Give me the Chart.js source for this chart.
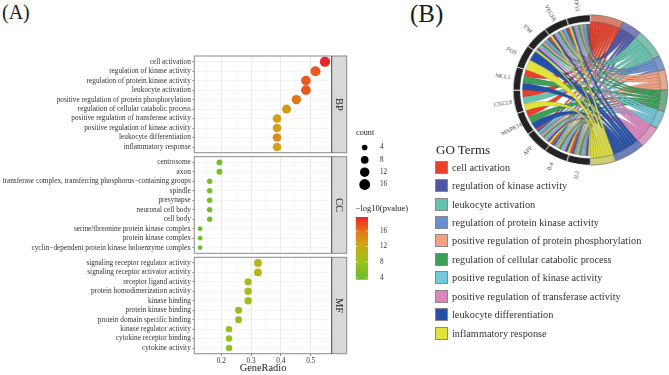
<!DOCTYPE html>
<html>
<head>
<meta charset="utf-8">
<script src="https://cdn.jsdelivr.net/npm/chart.js@4"></script>
<style>
    body { margin: 0; background: #fff; font-family: "Liberation Serif", serif; }
    #page { position: relative; width: 669px; height: 375px; overflow: hidden; }
    canvas { position: absolute; }
    .tag { position: absolute; color: #1a1a1a; line-height: 1; }
    #goTitle { position: absolute; left: 436px; top: 142px; font-size: 13px; line-height: 16px; color: #222; }
    #goLegend { position: absolute; left: 435px; top: 158px; }
    .row { display: flex; align-items: center; height: 18.45px; font-size: 10.3px; color: #333; white-space: nowrap; }
    .swatch { width: 11px; height: 11px; border: 1px solid #888; margin-right: 4px; flex: none; }
</style>
</head>
<body>
<div id="page">
    <div class="tag" style="left:2px;top:2px;font-size:20px">(A)</div>
    <div class="tag" style="left:410px;top:1px;font-size:25px">(B)</div>
    <canvas id="panelBP" width="350" height="113" style="left:0;top:48px"></canvas>
    <canvas id="panelCC" width="350" height="113" style="left:0;top:148px"></canvas>
    <canvas id="panelMF" width="350" height="126" style="left:0;top:249px"></canvas>
    <canvas id="countKey" width="40" height="72" style="left:356px;top:127px"></canvas>
    <canvas id="colorKey" width="60" height="85" style="left:355px;top:203px"></canvas>
    <canvas id="chord" width="179" height="190" style="left:486.7px;top:0;width:184px;height:190px"></canvas>
    <div id="goTitle">GO Terms</div>
    <div id="goLegend"></div>
</div>
<script>
// dot plot data
const bpTerms = ["cell activation", "regulation of kinase activity", "regulation of protein kinase activity", "leukocyte activation", "positive regulation of protein phosphorylation", "regulation of cellular catabolic process", "positive regulation of transferase activity", "positive regulation of kinase activity", "leukocyte differentiation", "inflammatory response"];
const bpRatio = [0.548, 0.516, 0.484, 0.484, 0.452, 0.419, 0.387, 0.387, 0.387, 0.387];
const bpCount = [17, 16, 15, 15, 14, 13, 12, 12, 12, 12];
const bpLogP = [19.6, 17.2, 17.0, 17.3, 15.8, 13.6, 13.0, 13.2, 14.4, 13.0];

const ccTerms = ["centrosome", "axon", "transferase complex, transferring phosphorus\u2212containing groups", "spindle", "presynapse", "neuronal cell body", "cell body", "serine/threonine protein kinase complex", "protein kinase complex", "cyclin\u2212dependent protein kinase holoenzyme complex"];
const ccRatio = [0.194, 0.194, 0.161, 0.161, 0.161, 0.161, 0.161, 0.129, 0.129, 0.129];
const ccCount = [6, 6, 5, 5, 5, 5, 5, 4, 4, 4];
const ccLogP = [4.6, 4.8, 4.4, 4.4, 4.4, 4.4, 4.3, 4.2, 4.2, 4.2];

const mfTerms = ["signaling receptor regulator activity", "signaling receptor activator activity", "receptor ligand activity", "protein homodimerization activity", "kinase binding", "protein kinase binding", "protein domain specific binding", "kinase regulator activity", "cytokine receptor binding", "cytokine activity"];
const mfRatio = [0.323, 0.323, 0.29, 0.29, 0.29, 0.258, 0.258, 0.226, 0.226, 0.226];
const mfCount = [10, 10, 9, 9, 9, 8, 8, 7, 7, 7];
const mfLogP = [10.6, 10.8, 9.0, 8.6, 8.8, 7.4, 7.6, 7.8, 7.6, 7.4];

const xTickValues = [0.15, 0.2, 0.25, 0.3, 0.35, 0.4, 0.45, 0.5, 0.55];
const xLabelled = [0.2, 0.3, 0.4, 0.5];
const countKeyValues = [4, 8, 12, 16];
const colorKeyTicks = [4, 8, 12, 16];
const colorKeyRange = [3.5, 19.6];

// colour scale of -log10(pvalue)
const scaleValues = [3.5, 6, 8, 10.5, 13, 15.5, 17.3, 19.6];
const scaleColors = ["#6CBC2E", "#83BF26", "#98C11F", "#B8B417", "#D2A016", "#DE7C18", "#E8571C", "#E4272A"];

// chord diagram
const goTerms = ["cell activation", "regulation of kinase activity", "leukocyte activation", "regulation of protein kinase activity", "positive regulation of protein phosphorylation", "regulation of cellular catabolic process", "positive regulation of kinase activity", "positive regulation of transferase activity", "leukocyte differentiation", "inflammatory response"];
const termSizes = [25, 15, 23, 11, 16, 16.6, 14, 17, 23, 19];
const termColors = ["#E8402A", "#4F56A6", "#66C2AE", "#6A8FD0", "#F4A082", "#3C9F58", "#72C8DC", "#DB86BE", "#2450A8", "#E2E23C"];
const ringColors = ["#D9806C", "#7A7DB8", "#7FC0B0", "#7D97CF", "#E8A78F", "#70AD80", "#7FC4D2", "#DB9BC5", "#6C7FBE", "#CFCF70"];
const genes = ["IL2", "IL4", "APP", "MAPK14", "CXCL8", "MCL1", "FOS", "TNF", "VEGFA", "TP53"];
const geneSizes = [18, 18, 18, 18, 18, 18, 18, 18, 18, 18];
// which terms every gene belongs to, same order as genes
const geneLinks = [
    [0, 1, 2, 4, 5, 6, 7, 8, 9],
    [0, 1, 2, 4, 5, 6, 7, 8, 9],
    [0, 1, 2, 3, 4, 5, 6, 7, 8, 9],
    [0, 5, 8],
    [0, 2, 9],
    [0, 5, 8],
    [8, 9],
    [0, 1, 2, 3, 4, 5, 6, 7, 8, 9],
    [0, 1, 2, 3, 4, 5, 6, 7, 8, 9],
    [0, 1, 2, 3, 4, 5, 6, 7, 8, 9]
];

const serif = "'Liberation Serif', serif";

function hexToRgb(hex) {
    return [1, 3, 5].map(i => parseInt(hex.substr(i, 2), 16));
}

function colorFor(v) {
    for (let i = 1; i < scaleValues.length; i++) {
        if (v <= scaleValues[i]) {
            const t = (v - scaleValues[i - 1]) / (scaleValues[i] - scaleValues[i - 1]);
            const a = hexToRgb(scaleColors[i - 1]);
            const b = hexToRgb(scaleColors[i]);
            return `rgb(${a.map((c, k) => Math.round(c + (b[k] - c) * t)).join(",")})`;
        }
    }
    return scaleColors[scaleColors.length - 1];
}

function radiusFor(count) {
    return 1.3 * Math.sqrt(count) - 0.2;
}

// panel border and grey strip on the right side
const stripPlugin = {
    id: "strip",
    afterDraw(chart, args, opts) {
        const a = chart.chartArea;
        const c = chart.ctx;
        c.save();
        c.fillStyle = "#D9D9D9";
        c.fillRect(a.right, a.top, 15, a.height);
        c.strokeStyle = "#8a8a8a";
        c.lineWidth = 1;
        c.strokeRect(a.left, a.top, a.width + 15, a.height);
        c.strokeStyle = "#444";
        c.beginPath();
        c.moveTo(a.right, a.top);
        c.lineTo(a.right, a.bottom);
        c.stroke();
        c.translate(a.right + 7.5, (a.top + a.bottom) / 2);
        c.rotate(Math.PI / 2);
        c.fillStyle = "#222";
        c.font = `10.5px ${serif}`;
        c.textAlign = "center";
        c.textBaseline = "middle";
        c.fillText(opts.label, 0, 0);
        c.restore();
    }
};

function makePanel(id, terms, ratio, count, logP, label, pad, showX) {
    const ctx = document.getElementById(id).getContext("2d");
    return new Chart(ctx, {
        type: "scatter",
        data: {
            datasets: [{
                data: terms.map((t, i) => ({ x: ratio[i], y: i })),
                pointRadius: c => radiusFor(count[c.dataIndex]),
                pointBackgroundColor: c => colorFor(logP[c.dataIndex]),
                pointBorderWidth: 0
            }]
        },
        plugins: [stripPlugin],
        options: {
            responsive: false,
            animation: false,
            layout: { padding: { top: pad[0], bottom: pad[1], right: 18.3, left: 0 } },
            plugins: {
                legend: { display: false },
                tooltip: { enabled: false },
                strip: { label: label }
            },
            scales: {
                x: {
                    type: "linear",
                    min: 0.1095,
                    max: 0.5705,
                    afterBuildTicks: s => { s.ticks = xTickValues.map(v => ({ value: v })); },
                    afterFit: s => { s.height = showX ? 21.3 : 0; },
                    border: { display: false },
                    grid: {
                        color: c => xLabelled.includes(c.tick.value) ? "#e4e4e4" : "#f1f1f1",
                        lineWidth: c => xLabelled.includes(c.tick.value) ? 0.8 : 0.5,
                        tickColor: c => showX && xLabelled.includes(c.tick.value) ? "#444" : "rgba(0,0,0,0)",
                        tickLength: showX ? 2 : 0,
                        drawTicks: showX
                    },
                    ticks: {
                        display: showX,
                        autoSkip: false,
                        maxRotation: 0,
                        padding: 1,
                        color: "#333",
                        font: { family: serif, size: 7.3 },
                        callback: v => xLabelled.includes(v) ? v.toFixed(1) : ""
                    },
                    title: {
                        display: showX,
                        text: "GeneRadio",
                        color: "#222",
                        padding: { top: 0, bottom: 0 },
                        font: { family: serif, size: 10.4 }
                    }
                },
                y: {
                    type: "linear",
                    reverse: true,
                    min: -0.6,
                    max: 9.6,
                    afterBuildTicks: s => { s.ticks = terms.map((t, i) => ({ value: i })); },
                    afterFit: s => { s.width = 194.3; },
                    border: { display: false },
                    grid: { color: "#ececec", lineWidth: 0.6, tickColor: "#444", tickLength: 2 },
                    ticks: {
                        autoSkip: false,
                        padding: 1.5,
                        color: "#333",
                        font: { family: serif, size: 7.3 },
                        callback: v => terms[v]
                    }
                }
            }
        }
    });
}

makePanel("panelBP", bpTerms, bpRatio, bpCount, bpLogP, "BP", [8, 8.3], false);
makePanel("panelCC", ccTerms, ccRatio, ccCount, ccLogP, "CC", [8.7, 7.7], false);
makePanel("panelMF", mfTerms, mfRatio, mfCount, mfLogP, "MF", [8.3, 0], true);

// size key
new Chart(document.getElementById("countKey").getContext("2d"), {
    type: "scatter",
    data: {
        datasets: [{
            data: countKeyValues.map((v, i) => ({ x: 1, y: i })),
            clip: false,
            pointRadius: c => radiusFor(countKeyValues[c.dataIndex]) + 0.4,
            pointBackgroundColor: "#000",
            pointBorderWidth: 0
        }]
    },
    options: {
        responsive: false,
        animation: false,
        layout: { padding: { bottom: 8.3 } },
        plugins: {
            legend: { display: false },
            tooltip: { enabled: false },
            title: {
                display: true, text: "count", align: "start", color: "#222",
                padding: { top: 1, bottom: 3.5 },
                font: { family: serif, size: 8.2, weight: "normal" }
            }
        },
        scales: {
            x: { display: false, min: 0, max: 2 },
            y: {
                position: "right",
                reverse: true,
                min: -0.5,
                max: 3.5,
                afterBuildTicks: s => { s.ticks = countKeyValues.map((v, i) => ({ value: i })); },
                afterFit: s => { s.width = 28; },
                border: { display: false },
                grid: { display: false },
                ticks: {
                    padding: 4,
                    color: "#333",
                    font: { family: serif, size: 7.2 },
                    callback: v => countKeyValues[v]
                }
            }
        }
    }
});

// colour bar key
const barTicks = {
    id: "barTicks",
    afterDatasetsDraw(chart) {
        const y = chart.scales.y;
        const a = chart.chartArea;
        const c = chart.ctx;
        c.save();
        c.strokeStyle = "rgba(255,255,255,0.8)";
        c.lineWidth = 0.6;
        colorKeyTicks.forEach(v => {
            const p = y.getPixelForValue(v);
            c.beginPath();
            c.moveTo(a.left, p);
            c.lineTo(a.left + 2.5, p);
            c.moveTo(a.right - 2.5, p);
            c.lineTo(a.right, p);
            c.stroke();
        });
        c.restore();
    }
};

new Chart(document.getElementById("colorKey").getContext("2d"), {
    type: "bar",
    data: {
        labels: ["logP"],
        datasets: [{
            data: [colorKeyRange],
            barPercentage: 1,
            categoryPercentage: 1,
            backgroundColor: c => {
                const a = c.chart.chartArea;
                if (!a) return scaleColors[0];
                const y = c.chart.scales.y;
                const g = c.chart.ctx.createLinearGradient(0, a.bottom, 0, a.top);
                scaleValues.forEach((v, i) => {
                    g.addColorStop((y.getPixelForValue(v) - a.bottom) / (a.top - a.bottom), scaleColors[i]);
                });
                return g;
            }
        }]
    },
    plugins: [barTicks],
    options: {
        responsive: false,
        animation: false,
        layout: { padding: { left: 0.7, bottom: 8 } },
        plugins: {
            legend: { display: false },
            tooltip: { enabled: false },
            title: {
                display: true, text: "\u2212log10(pvalue)", align: "start", color: "#222",
                padding: { top: 1, bottom: 2.7 },
                font: { family: serif, size: 8.5, weight: "normal" }
            }
        },
        scales: {
            x: { display: false },
            y: {
                position: "right",
                min: colorKeyRange[0],
                max: colorKeyRange[1],
                afterBuildTicks: s => { s.ticks = colorKeyTicks.map(v => ({ value: v })); },
                afterFit: s => { s.width = 47; },
                border: { display: false },
                grid: { display: false },
                ticks: {
                    padding: 4,
                    color: "#333",
                    font: { family: serif, size: 7.2 }
                }
            }
        }
    }
});

// ribbons and gene names drawn from the doughnut's own arcs
const chordPlugin = {
    id: "chordRibbons",
    afterDatasetsDraw(chart) {
        const arcs = chart.getDatasetMeta(0).data;
        const c = chart.ctx;
        const n = goTerms.length;
        const cx = arcs[0].x;
        const cy = arcs[0].y;
        const rTerm = arcs[0].innerRadius;
        const rGene = arcs[0].innerRadius - 2;
        const pt = (ang, r) => [cx + r * Math.cos(ang), cy + r * Math.sin(ang)];

        // term end: gene order runs backwards around the circle, so ribbons do not twist
        const termLinks = goTerms.map((t, ti) => genes.map((g, gi) => gi).filter(gi => geneLinks[gi].includes(ti)).reverse());

        c.save();
        goTerms.forEach((term, ti) => {
            const tArc = arcs[ti];
            const tStep = (tArc.endAngle - tArc.startAngle) / termLinks[ti].length;
            termLinks[ti].forEach((gi, k) => {
                const gArc = arcs[n + gi];
                const links = geneLinks[gi];
                const gStep = (gArc.endAngle - gArc.startAngle) / links.length;
                const pos = links.length - 1 - links.indexOf(ti);
                const a0 = tArc.startAngle + k * tStep;
                const a1 = a0 + tStep;
                const b0 = gArc.startAngle + pos * gStep;
                const b1 = b0 + gStep;
                const p1 = pt(b0, rGene);
                const p2 = pt(a0, rTerm);
                c.beginPath();
                c.arc(cx, cy, rTerm, a0, a1);
                c.quadraticCurveTo(cx, cy, p1[0], p1[1]);
                c.arc(cx, cy, rGene, b0, b1);
                c.quadraticCurveTo(cx, cy, p2[0], p2[1]);
                c.closePath();
                c.fillStyle = termColors[ti];
                c.fill();
                c.strokeStyle = "rgba(60,60,60,0.55)";
                c.lineWidth = 0.35;
                c.stroke();
            });
        });

        c.fillStyle = "#333";
        c.font = `5.6px ${serif}`;
        c.textAlign = "center";
        c.textBaseline = "middle";
        genes.forEach((g, gi) => {
            const arc = arcs[n + gi];
            const mid = (arc.startAngle + arc.endAngle) / 2;
            const p = pt(mid, 86);
            c.save();
            c.translate(p[0], p[1]);
            c.rotate(mid + Math.PI);
            c.fillText(g, 0, 0);
            c.restore();
        });
        c.restore();
    }
};

new Chart(document.getElementById("chord").getContext("2d"), {
    type: "doughnut",
    data: {
        labels: goTerms.concat(genes),
        datasets: [{
            data: termSizes.concat(geneSizes),
            backgroundColor: ringColors.concat(genes.map(() => "#232323")),
            borderColor: goTerms.map(() => "#666").concat(genes.map(() => "#fff")),
            borderWidth: 0.7
        }]
    },
    plugins: [chordPlugin],
    options: {
        responsive: false,
        animation: false,
        cutout: "90.5%",
        layout: { padding: { left: 25, right: 3, top: 14.5, bottom: 24.5 } },
        plugins: {
            legend: { display: false },
            tooltip: { enabled: false }
        }
    }
});

// legend under the chord diagram
const box = document.getElementById("goLegend");
goTerms.forEach((term, i) => {
    const row = document.createElement("div");
    row.className = "row";
    const sw = document.createElement("div");
    sw.className = "swatch";
    sw.style.background = termColors[i];
    row.appendChild(sw);
    row.appendChild(document.createTextNode(term));
    box.appendChild(row);
});
</script>
</body>
</html>
